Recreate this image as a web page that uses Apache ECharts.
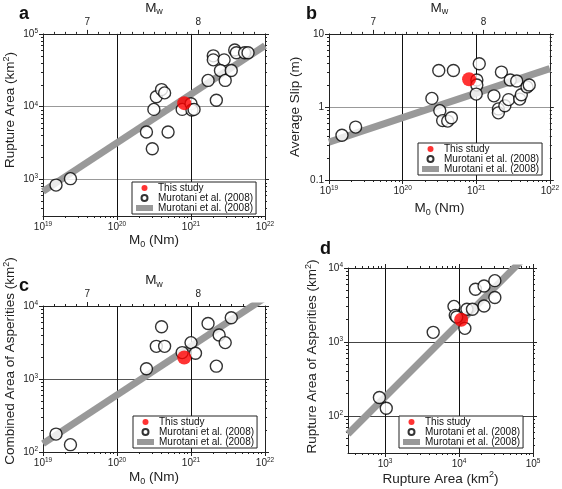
<!DOCTYPE html>
<html><head><meta charset="utf-8">
<script src="https://cdn.jsdelivr.net/npm/echarts@6/dist/echarts.min.js"></script>
<style>html,body{margin:0;padding:0;background:#fff}#c{width:562px;height:489px}</style>
</head><body><div id="c"></div>
<script>
// ---------- data ----------
// panel a: seismic moment M0 (Nm) vs rupture area (km2)
const aM0   = [1.5e19, 2.35e19, 2.5e20, 3.0e20, 4.9e20, 3.15e20, 3.4e20, 4.0e20, 4.4e20, 7.6e20, 1.0e21, 1.03e21, 1.1e21, 1.7e21, 2.2e21, 2.0e21, 2.0e21, 2.8e21, 2.5e21, 2.9e21, 3.5e21, 3.9e21, 4.1e21, 5.3e21, 5.9e21];
const aArea = [840, 1030, 4500, 2650, 4500, 9200, 13700, 17200, 15500, 9200, 11000, 9000, 9200, 23000, 12300, 50000, 44000, 44000, 31500, 23000, 31500, 60000, 55000, 55000, 55000];
// panel b: M0 vs average slip (m)
const bM0   = [1.5e19, 2.3e19, 2.5e20, 3.1e20, 3.2e20, 3.5e20, 4.1e20, 4.6e20, 4.9e20, 1.02e21, 1.02e21, 1.0e21, 1.1e21, 1.74e21, 2.2e21, 2.0e21, 2.0e21, 2.45e21, 2.75e21, 2.9e21, 3.55e21, 3.9e21, 4.1e21, 4.9e21, 5.25e21];
const bSlip = [0.41, 0.53, 1.31, 3.16, 0.89, 0.65, 0.64, 0.71, 3.16, 2.34, 2.0, 1.5, 3.9, 1.42, 3.0, 0.94, 0.83, 1.04, 1.26, 2.34, 2.27, 1.28, 1.47, 1.88, 2.0];
// panel c: M0 vs combined area of asperities (km2)
const cM0   = [1.5e19, 2.35e19, 2.5e20, 3.4e20, 4.4e20, 4.0e20, 7.6e20, 1.0e21, 1.15e21, 1.7e21, 2.2e21, 2.4e21, 2.9e21, 3.5e21];
const cAsp  = [176, 126, 1380, 2800, 2800, 5200, 2300, 3150, 2250, 5750, 1500, 4000, 3150, 6900];
// panel d: rupture area vs rupture area of asperities (km2)
const dArea = [840, 1040, 4480, 8550, 8900, 9300, 12000, 12800, 15200, 16700, 21800, 21800, 30500, 30500];
const dAsp  = [178, 127, 1350, 3030, 2290, 2180, 1530, 2770, 2770, 5170, 5700, 3070, 3990, 6750];
// this study (red)
const studyA = [8.1e20, 11200];
const studyB = [8.0e20, 2.39];
const studyC = [8.1e20, 1970];
const studyD = [10700, 2000];
// Murotani et al. (2008) scaling relations (end points)
const relAx = [1e19, 1e22], relAy = [690, 69000];
const relBx = [1e19, 1e22], relBy = [0.33, 3.35];
const relCx = [1e19, 1e22], relCy = [130, 13000];
const relDx = [316, 1e5],   relDy = [57, 18000];
// tick labels
const m0Labels   = [1e19, 1e20, 1e21, 1e22];
const mwLabels   = [7, 8];
const aYLabels   = [1e3, 1e4, 1e5];
const bYLabels   = [0.1, 1, 10];
const cYLabels   = [1e2, 1e3, 1e4];
const dXLabels   = [1e3, 1e4, 1e5];
const dYLabels   = [1e2, 1e3, 1e4];
const NAME_STUDY = 'This study';
const NAME_OBS   = 'Murotani et al. (2008)';
const NAME_REL   = 'Murotani et al. (2008) ';

// ---------- styling / helpers ----------
const FONT = "'Liberation Sans', Arial, Helvetica, sans-serif";
const AX = '#222';
const supRich = {
  b: {fontSize: 10, fontFamily: FONT, color: '#222', lineHeight: 13},
  s: {fontSize: 6.5, fontFamily: FONT, color: '#222', lineHeight: 7, verticalAlign: 'top'}
};
const nameRich = {
  t: {fontSize: 13.5, fontFamily: FONT, color: '#222', lineHeight: 17},
  s: {fontSize: 9, fontFamily: FONT, color: '#222', lineHeight: 9, verticalAlign: 'top'},
  u: {fontSize: 9, fontFamily: FONT, color: '#222', lineHeight: 9, verticalAlign: 'bottom'}
};
const powFmt = v => '{b|10}{s|' + Math.round(Math.log10(v)) + '}';
const plainFmt = v => '{b|' + v + '}';

function decades(min, max) {
  const out = [];
  for (let e = Math.ceil(Math.log10(min) - 1e-9); e <= Math.floor(Math.log10(max) + 1e-9); e++) out.push(Math.pow(10, e));
  return out;
}
function minors(min, max) {
  const out = [];
  for (let e = Math.floor(Math.log10(min) + 1e-9); e < Math.ceil(Math.log10(max) - 1e-9); e++)
    for (let m = 2; m <= 9; m++) { const v = m * Math.pow(10, e); if (v > min * 1.001 && v < max * 0.999) out.push(v); }
  return out;
}
function base(gi, type, pos, min, max) {
  const o = {gridIndex: gi, type, position: pos, min, max,
    axisLine: {show: true, onZero: false, lineStyle: {color: AX, width: 1}},
    axisTick: {show: false}, axisLabel: {show: false},
    splitLine: {show: false}, minorTick: {show: false}, minorSplitLine: {show: false}};
  if (type === 'log') o.logBase = 10;
  return o;
}
// returns [majorAxis, minorAxis]
function logAxes(gi, pos, min, max, opt) {
  const major = base(gi, 'log', pos, min, max);
  major.axisTick = {show: true, inside: false, length: 4, customValues: decades(min, max), lineStyle: {color: AX}};
  if (opt.labels) major.axisLabel = {show: true, customValues: opt.labels, formatter: opt.fmt || powFmt,
    rich: supRich, margin: opt.margin || 5, fontFamily: FONT, color: '#222'};
  if (opt.split) major.splitLine = {show: true, lineStyle: {color: opt.split, width: 1}};
  if (opt.name) Object.assign(major, {name: opt.name, nameLocation: 'middle', nameGap: opt.nameGap,
    nameTextStyle: {rich: nameRich, fontFamily: FONT, padding: opt.namePad || 0}});
  const minor = base(gi, 'log', pos, min, max);
  minor.axisLine = {show: false};
  minor.axisTick = {show: true, inside: false, length: 2, customValues: minors(min, max), lineStyle: {color: AX}};
  return [major, minor];
}
function mwAxes(gi) {
  const major = base(gi, 'value', 'top', 6.6, 8.6);
  major.axisTick = {show: true, inside: false, length: 4, customValues: mwLabels, lineStyle: {color: AX}};
  major.axisLabel = {show: true, customValues: mwLabels, formatter: plainFmt, rich: supRich, margin: 5, fontFamily: FONT};
  Object.assign(major, {name: '{t|M}{u|w}', nameLocation: 'middle', nameGap: 16, nameTextStyle: {rich: nameRich}});
  const mt = [];
  for (let k = 67; k <= 85; k++) if (k !== 70 && k !== 80) mt.push(k / 10);
  const minor = base(gi, 'value', 'top', 6.6, 8.6);
  minor.axisLine = {show: false};
  minor.axisTick = {show: true, inside: false, length: 2, customValues: mt, lineStyle: {color: AX}};
  return [major, minor];
}

const grids = [
  {left: 43, top: 33, width: 222, height: 183},
  {left: 329, top: 32, width: 222, height: 148},
  {left: 43, top: 306, width: 222, height: 146},
  {left: 348, top: 268, width: 185, height: 185}
];

const xAxes = [], yAxes = [], series = [];
const m0Name = '{t|M}{u|0}{t| (Nm)}';
function addPanel(gi, xs, ys, study, rel, xCfg, yCfg, mw) {
  const xi = xAxes.length, yi = yAxes.length;
  xAxes.push(...logAxes(gi, 'bottom', xCfg.min, xCfg.max, xCfg));
  if (mw) xAxes.push(...mwAxes(gi));
  else xAxes.push(...logAxes(gi, 'top', xCfg.min, xCfg.max, {}));
  yAxes.push(...logAxes(gi, 'left', yCfg.min, yCfg.max, yCfg));
  yAxes.push(...logAxes(gi, 'right', yCfg.min, yCfg.max, {}));
  series.push({type: 'line', name: NAME_REL, xAxisIndex: xi, yAxisIndex: yi,
    data: rel[0].map((x, i) => [x, rel[1][i]]), symbol: 'none', clip: true, silent: true,
    color: '#999', lineStyle: {color: '#999', width: 7, cap: 'butt'}, z: 2});
  series.push({type: 'scatter', name: NAME_OBS, xAxisIndex: xi, yAxisIndex: yi,
    data: xs.map((x, i) => [x, ys[i]]), symbol: 'circle', symbolSize: 12,
    itemStyle: {color: '#fff', borderColor: '#000', borderWidth: 1.4}, z: 3});
  series.push({type: 'scatter', name: NAME_STUDY, xAxisIndex: xi, yAxisIndex: yi,
    data: [study], symbol: 'circle', symbolSize: 14, itemStyle: {color: '#ff0000'}, z: 4});
}

addPanel(0, aM0, aArea, studyA, [relAx, relAy],
  {min: 1e19, max: 1e22, labels: m0Labels, split: '#111', name: m0Name, nameGap: 16},
  {min: Math.pow(10, 2.5), max: 1e5, labels: aYLabels, split: '#999', name: '{t|Rupture Area (km}{s|2}{t|)}', nameGap: 24, namePad: [0, 0, 0, 30]}, true);
addPanel(1, bM0, bSlip, studyB, [relBx, relBy],
  {min: 1e19, max: 1e22, labels: m0Labels, split: '#111', name: m0Name, nameGap: 20},
  {min: 0.1, max: 10, labels: bYLabels, fmt: plainFmt, split: '#999', name: '{t|Average Slip (m)}', nameGap: 25}, true);
addPanel(2, cM0, cAsp, studyC, [relCx, relCy],
  {min: 1e19, max: 1e22, labels: m0Labels, split: '#111', name: m0Name, nameGap: 17},
  {min: 100, max: 1e4, labels: cYLabels, split: '#555', name: '{t|Combined Area of Asperities (km}{s|2}{t|)}', nameGap: 24, namePad: [0, 0, 0, 36]}, true);
addPanel(3, dArea, dAsp, studyD, [relDx, relDy],
  {min: Math.pow(10, 2.5), max: 1e5, labels: dXLabels, split: '#111', name: '{t|Rupture Area (km}{s|2}{t|)}', nameGap: 16},
  {min: Math.pow(10, 1.5), max: 1e4, labels: dYLabels, split: '#444', name: '{t|Rupture Area of Asperities (km}{s|2}{t|)}', nameGap: 27, namePad: [0, 0, 0, 8]}, false);

const legendBase = {
  orient: 'vertical', itemWidth: 17, itemHeight: 6, itemGap: 0, padding: [1, 3, 1, 4],
  borderColor: '#222', borderWidth: 1, backgroundColor: '#fff', selectedMode: false,
  textStyle: {fontSize: 10, fontFamily: FONT, color: '#111', lineHeight: 8.5},
  formatter: n => n.trim(), z: 10,
  data: [{name: NAME_STUDY, icon: 'circle'}, {name: NAME_OBS, icon: 'circle'}, {name: NAME_REL, icon: 'rect'}]
};
const legendPos = [[132, 182], [418, 143], [133, 416], [399, 416]];

const letter = (t, x, y) => ({type: 'text', left: x, top: y, z: 20,
  style: {text: t, font: 'bold 18px ' + FONT, fill: '#111'}});

const chart = echarts.init(document.getElementById('c'), null, {renderer: 'canvas'});
chart.setOption({
  animation: false,
  backgroundColor: '#fff',
  textStyle: {fontFamily: FONT},
  grid: grids,
  xAxis: xAxes,
  yAxis: yAxes,
  legend: legendPos.map(p => Object.assign({}, legendBase, {left: p[0], top: p[1]})),
  series: series,
  graphic: [letter('a', 19, 5), letter('b', 306, 5), letter('c', 19, 277), letter('d', 320, 240)]
});
</script>
</body></html>
